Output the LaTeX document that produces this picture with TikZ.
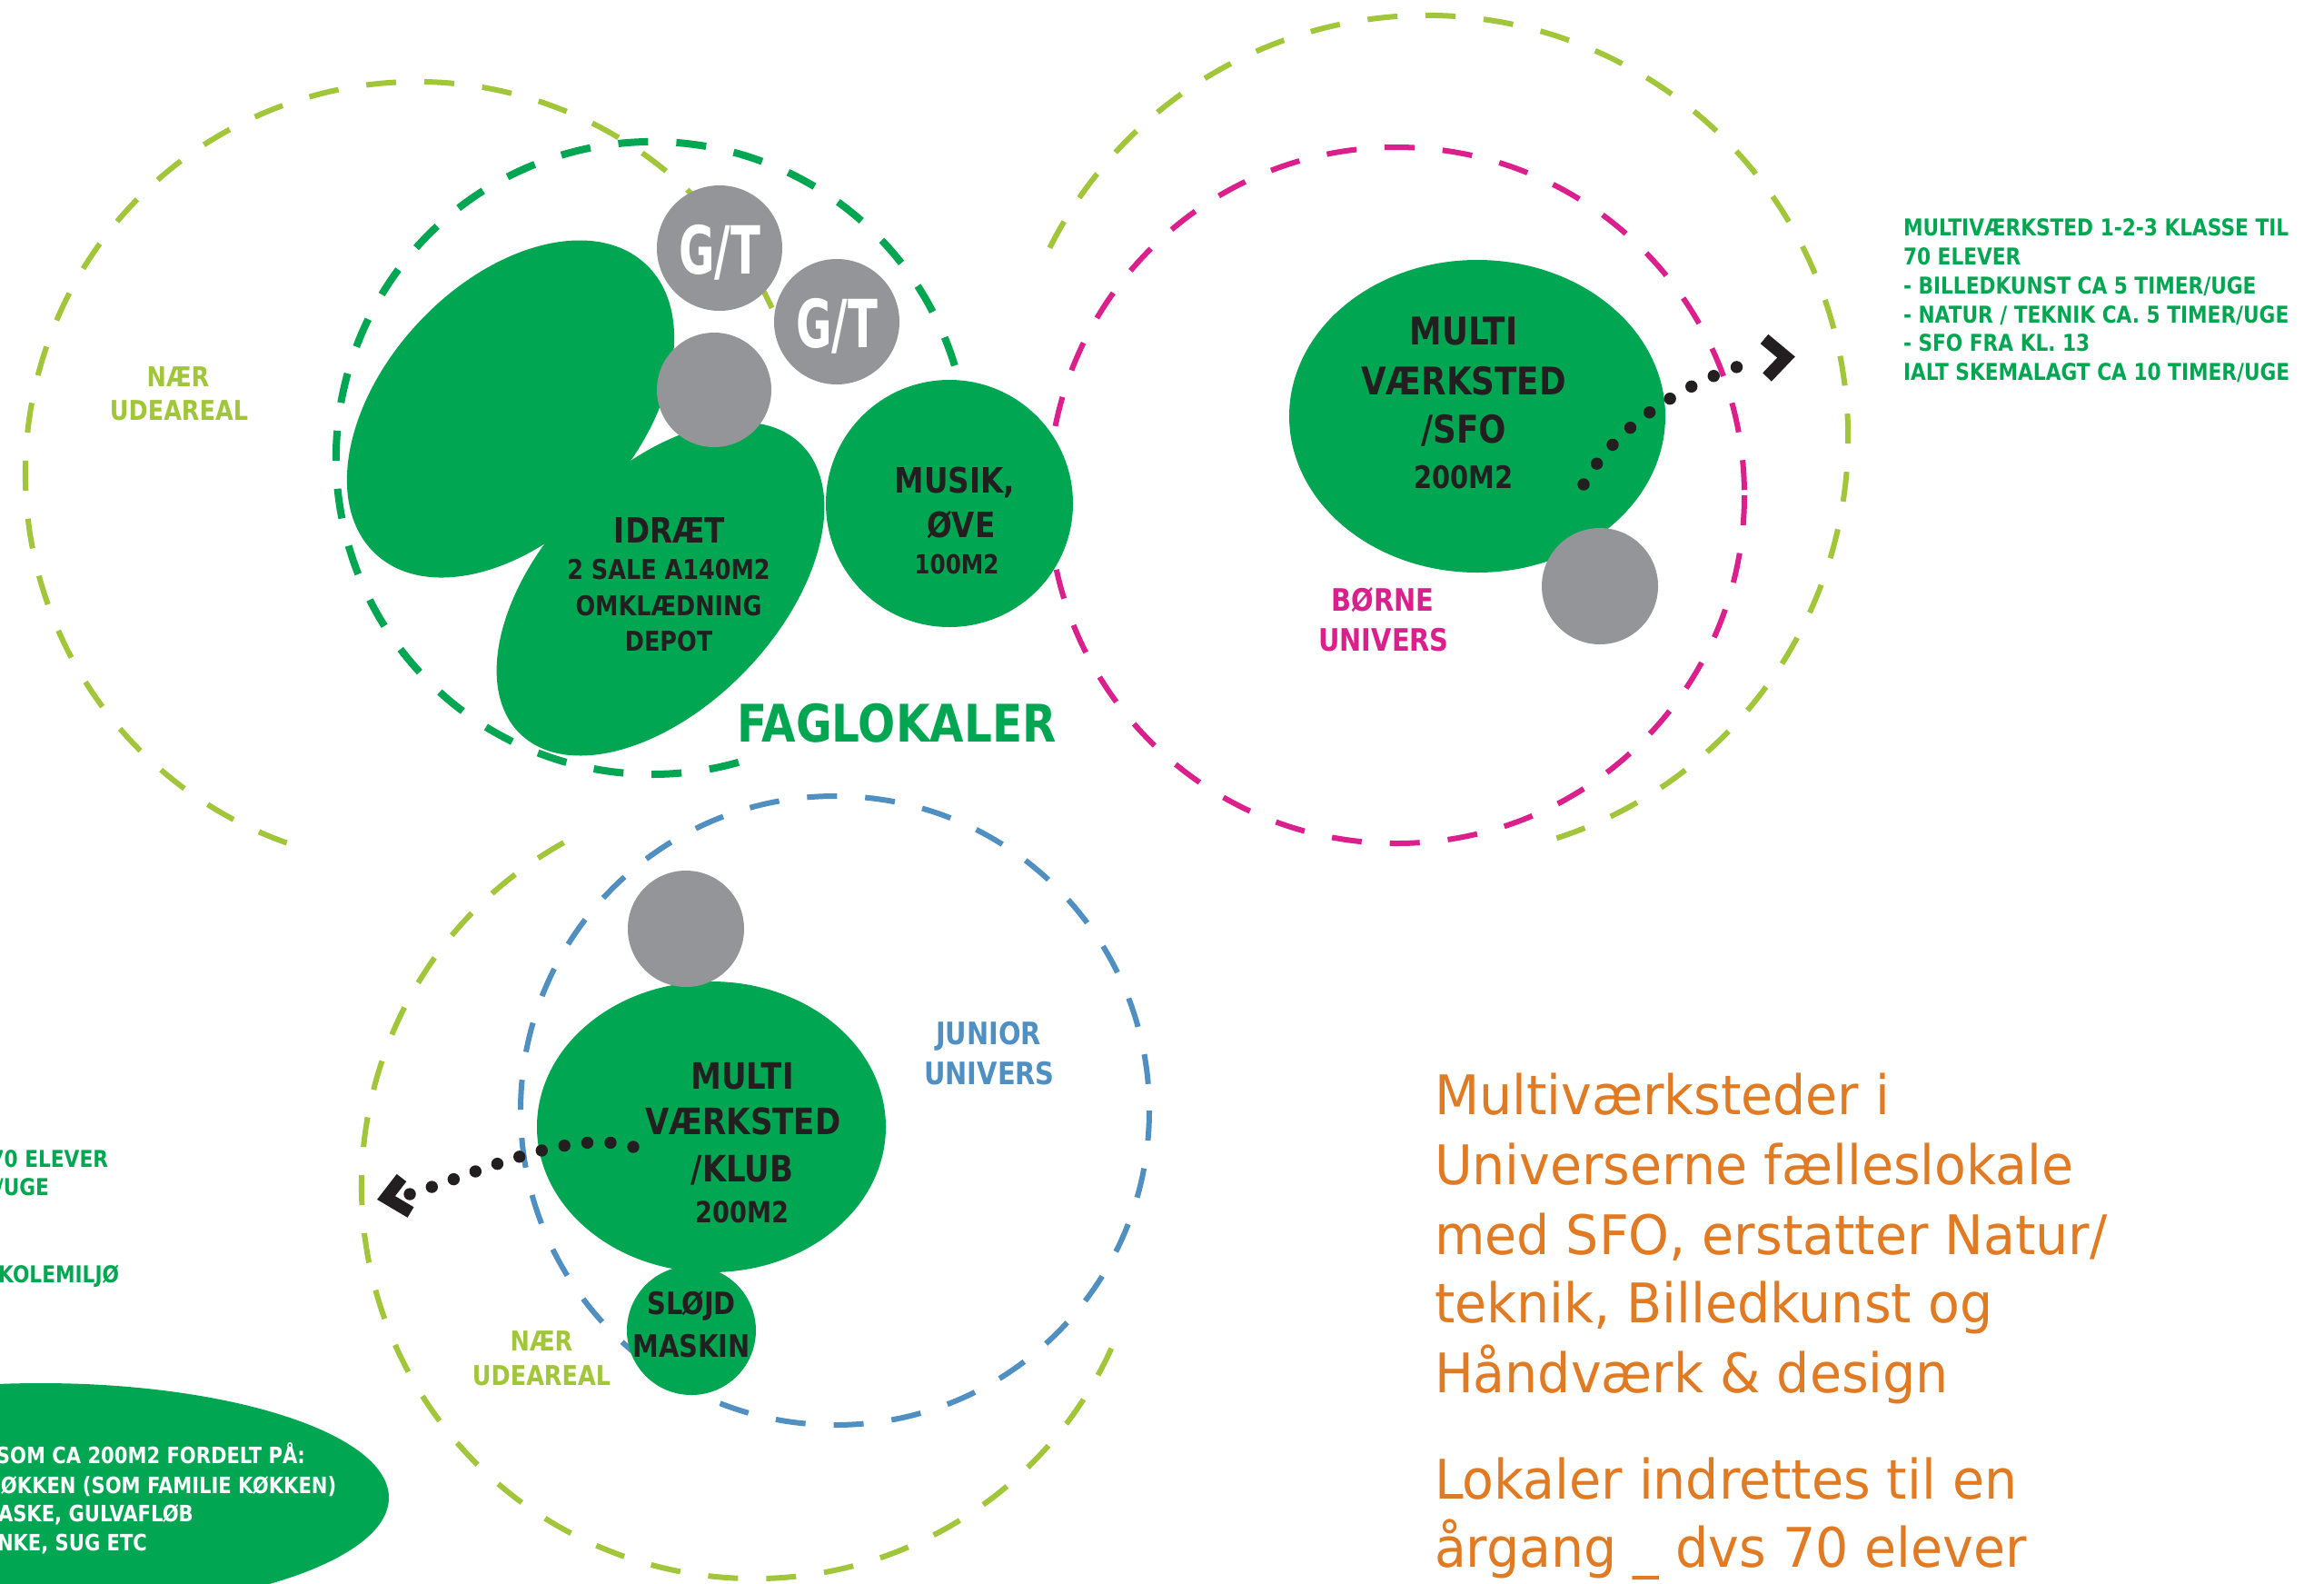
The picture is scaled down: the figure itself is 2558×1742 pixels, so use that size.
\documentclass[tikz,border=0pt]{standalone}
\usepackage{fontspec}
\setmainfont{DejaVu Sans}
\newfontfamily\bfn{DejaVu Sans}[FakeStretch=0.85]
\newfontfamily\rgn{DejaVu Sans}[FakeStretch=0.95]
\newfontfamily\gtn{DejaVu Sans}[FakeStretch=0.66]
\usetikzlibrary{shapes.geometric}
\definecolor{fgreen}{RGB}{0,166,81}
\definecolor{lgreen}{RGB}{162,198,57}
\definecolor{pinkc}{RGB}{219,31,140}
\definecolor{bluec}{RGB}{80,143,193}
\definecolor{grayc}{RGB}{148,149,153}
\definecolor{darkc}{RGB}{35,31,32}
\definecolor{orangec}{RGB}{224,122,35}
\newcommand\myfs[1]{\fontsize{#1}{#1}\selectfont}
\begin{document}
\begin{tikzpicture}[x=0.5pt,y=-0.5pt,
  dsh/.style={line width=#1, dash pattern=on 16.5pt off 15.5pt},
  blob/.style={fill=fgreen, ellipse, inner sep=0pt, outer sep=0pt},
  disc/.style={fill=#1, circle, inner sep=0pt, outer sep=0pt},
  lbl/.style={inner sep=0pt, outer sep=0pt, anchor=base},
  bt/.style={lbl, text=darkc, font=\bfn\bfseries\myfs{#1}},
  ct/.style={lbl, font=\bfn\bfseries\myfs{#1}},
  ot/.style={lbl, anchor=base west, text=orangec, font=\rgn\myfs{30pt}},
  gt/.style={lbl, text=white, font=\gtn\bfseries\myfs{36.5pt}},
  dots/.style={draw=darkc, line width=6.7pt, line cap=round, dash pattern=on 0pt off #1},
  chev/.style={draw=darkc, line width=6.7pt, line cap=butt, miter limit=10}]
\useasboundingbox (0,0) rectangle (2558,1742);
\clip (0,0) rectangle (2558,1742);
\fill[white] (0,0) rectangle (2558,1742);

% dashed universes
\draw[lgreen, dsh=3pt] (459,521) ++(-25:431) arc[start angle=-25, end angle=-253, radius=431];
\draw[lgreen, dsh=3pt] (1570,481) ++(72:464) arc[start angle=72, end angle=-155, radius=464];
\draw[lgreen, dsh=3pt] (830,1305) ++(-119:432) arc[start angle=-119, end angle=-338, radius=432];
\draw[fgreen, dsh=4pt] (718,504) ++(-17:348) arc[start angle=-17, end angle=-288, radius=348];
\draw[pinkc, dsh=3pt] (1537,545) circle[radius=383];
\draw[bluec, dsh=3pt] (919,1222) circle[radius=346];

% green rooms
\node[blob, minimum width=218pt, minimum height=139pt, rotate=47] (idr1) at (562,450) {};
\node[blob, minimum width=222pt, minimum height=130pt, rotate=46] (idr2) at (727,648) {};
\node[disc=fgreen, minimum size=136pt] (musik) at (1045,554) {};
\node[blob, minimum width=207pt, minimum height=172pt] (sfo) at (1626,458) {};
\node[blob, minimum width=192pt, minimum height=160pt] (klub) at (783,1240) {};
\node[disc=fgreen, minimum size=71pt] (slojd) at (761,1464) {};
\node[blob, minimum width=383pt, minimum height=126pt] (big) at (45,1648) {};

% gray circles
\node[disc=grayc, minimum size=69pt] (gt1) at (792,273) {};
\node[disc=grayc, minimum size=69pt] (gt2) at (921,354) {};
\node[disc=grayc, minimum size=63pt] (g3) at (786,429) {};
\node[disc=grayc, minimum size=64pt] (gsfo) at (1761,645) {};
\node[disc=grayc, minimum size=64pt] (gklub) at (755,1022) {};
\node[gt] (gtt1) at (792,301) {G/T};
\node[gt] (gtt2) at (921,382) {G/T};

% room texts
\node[bt=19.2pt] (t1) at (737,597) {IDRÆT};
\node[bt=15pt] (t2) at (736,637) {2 SALE A140M2};
\node[bt=15pt] (t3) at (736,677) {OMKLÆDNING};
\node[bt=15pt] (t4) at (736,716) {DEPOT};
\node[bt=19.2pt] (m1) at (1051,542) {MUSIK,};
\node[bt=19.2pt] (m2) at (1058,591) {ØVE};
\node[bt=14.5pt] (m3) at (1053,631) {100M2};
\node[bt=21pt] (s1) at (1611,379) {MULTI};
\node[bt=21pt] (s2) at (1611,434) {VÆRKSTED};
\node[bt=21pt] (s3) at (1611,487) {/SFO};
\node[bt=17pt] (s4) at (1611,537) {200M2};
\node[bt=20pt] (k1) at (817,1198) {MULTI};
\node[bt=20pt] (k2) at (818,1248) {VÆRKSTED};
\node[bt=20pt] (k3) at (817,1300) {/KLUB};
\node[bt=16pt] (k4) at (817,1345) {200M2};
\node[bt=17pt] (sl1) at (761,1446) {SLØJD};
\node[bt=17pt] (sl2) at (761,1493) {MASKIN};

% universe labels
\node[ct=17pt, text=bluec] (j1) at (1088,1149) {JUNIOR};
\node[ct=17pt, text=bluec] (j2) at (1089,1193) {UNIVERS};
\node[ct=17pt, text=pinkc] (b1) at (1522,672) {BØRNE};
\node[ct=17pt, text=pinkc] (b2) at (1523,716) {UNIVERS};
\node[ct=15pt, text=lgreen] (n1) at (196,425) {NÆR};
\node[ct=15pt, text=lgreen] (n2) at (197,462) {UDEAREAL};
\node[ct=15pt, text=lgreen] (n3) at (596,1486) {NÆR};
\node[ct=15pt, text=lgreen] (n4) at (596,1524) {UDEAREAL};
\node[ct=28.5pt, text=fgreen, anchor=base west] (fag) at (811,816) {FAGLOKALER};

% right notes
\node[ct=12.75pt, text=fgreen, anchor=base west] (r1) at (2095,259) {MULTIVÆRKSTED 1-2-3 KLASSE TIL};
\node[ct=12.75pt, text=fgreen, anchor=base west] (r2) at (2095,291) {70 ELEVER};
\node[ct=12.75pt, text=fgreen, anchor=base west] (r3) at (2095,323) {- BILLEDKUNST CA 5 TIMER/UGE};
\node[ct=12.75pt, text=fgreen, anchor=base west] (r4) at (2095,355) {- NATUR / TEKNIK CA. 5 TIMER/UGE};
\node[ct=12.75pt, text=fgreen, anchor=base west] (r5) at (2095,386) {- SFO FRA KL. 13};
\node[ct=12.75pt, text=fgreen, anchor=base west] (r6) at (2095,418) {IALT SKEMALAGT CA 10 TIMER/UGE};

% left notes (cut by the edge, as in the original)
\node[ct=12.75pt, text=fgreen, anchor=base east] (l1) at (119,1284) {70 ELEVER};
\node[ct=12.75pt, text=fgreen, anchor=base east] (l2) at (54,1315) {/UGE};
\node[ct=12.75pt, text=fgreen, anchor=base east] (l3) at (131,1411) {KOLEMILJØ};
\node[ct=12.4pt, text=white, anchor=base west] (e1) at (-4,1610) {SOM CA 200M2 FORDELT PÅ:};
\node[ct=12.4pt, text=white, anchor=base west] (e2) at (1,1643) {ØKKEN (SOM FAMILIE KØKKEN)};
\node[ct=12.4pt, text=white, anchor=base west] (e3) at (-2,1674) {ASKE, GULVAFLØB};
\node[ct=12.4pt, text=white, anchor=base west] (e4) at (-3,1706) {NKE, SUG ETC};

% orange statement
\node[ot] (o1) at (1579,1226) {Multiværksteder i};
\node[ot] (o2) at (1579,1303) {Universerne fælleslokale};
\node[ot] (o3) at (1579,1380) {med SFO, erstatter Natur/};
\node[ot] (o4) at (1579,1455) {teknik, Billedkunst og};
\node[ot] (o5) at (1579,1532) {Håndværk \& design};
\node[ot] (o6) at (1579,1649) {Lokaler indrettes til en};
\node[ot] (o7) at (1579,1724) {årgang \_ dvs 70 elever};

% dotted connectors
\coordinate (sfoS) at (1743,533);
\coordinate (sfoE) at (1937,396);
\draw[dots=13.55pt] (sfoS) .. controls (1779,467) and (1859,417) .. (sfoE);
\coordinate (sfoA1) at (1942,373);
\coordinate (sfoA2) at (1966,393);
\coordinate (sfoA3) at (1945,415);
\draw[chev] (sfoA1) -- (sfoA2) -- (sfoA3);
\coordinate (klS) at (697,1262);
\coordinate (klE) at (451,1314);
\draw[dots=12.75pt] (klS) .. controls (628,1241) and (529,1290) .. (klE);
\coordinate (klA1) at (442,1296);
\coordinate (klA2) at (425,1318);
\coordinate (klA3) at (452,1334);
\draw[chev] (klA1) -- (klA2) -- (klA3);
\end{tikzpicture}
\end{document}
